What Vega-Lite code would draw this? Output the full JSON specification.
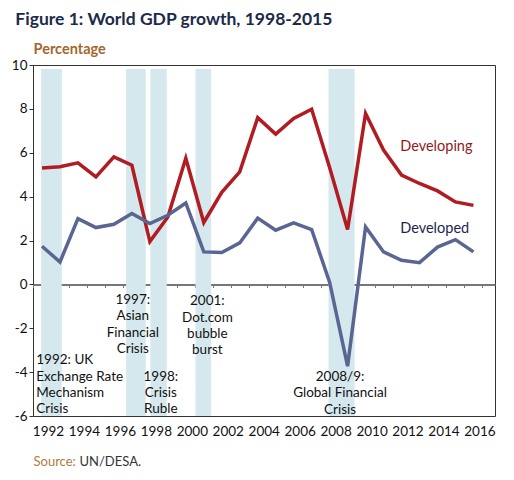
{
  "$schema": "https://vega.github.io/schema/vega-lite/v6.json",
  "width": 462,
  "height": 351,
  "autosize": {"type": "none"},
  "padding": {"left": 33, "top": 65, "right": 19, "bottom": 64},
  "background": "white",
  "config": {"font": "Lato", "view": {"stroke": "#333333", "strokeWidth": 1}},
  "title": {
    "text": "Figure 1: World GDP growth, 1998-2015",
    "anchor": "start",
    "dx": 4,
    "dy": 11,
    "fontSize": 17.5,
    "fontWeight": "bold",
    "color": "#1c2a4a",
    "baseline": "alphabetic",
    "offset": 10
  },
  "datasets": {
    "gdp": [
      {"year": 1992, "series": "Developing", "growth": 5.3},
      {"year": 1993, "series": "Developing", "growth": 5.36},
      {"year": 1994, "series": "Developing", "growth": 5.54},
      {"year": 1995, "series": "Developing", "growth": 4.9},
      {"year": 1996, "series": "Developing", "growth": 5.81},
      {"year": 1997, "series": "Developing", "growth": 5.43},
      {"year": 1998, "series": "Developing", "growth": 1.95},
      {"year": 1999, "series": "Developing", "growth": 3.07},
      {"year": 2000, "series": "Developing", "growth": 5.75},
      {"year": 2001, "series": "Developing", "growth": 2.82},
      {"year": 2002, "series": "Developing", "growth": 4.2},
      {"year": 2003, "series": "Developing", "growth": 5.13},
      {"year": 2004, "series": "Developing", "growth": 7.6},
      {"year": 2005, "series": "Developing", "growth": 6.85},
      {"year": 2006, "series": "Developing", "growth": 7.56},
      {"year": 2007, "series": "Developing", "growth": 7.98},
      {"year": 2008, "series": "Developing", "growth": 5.33},
      {"year": 2009, "series": "Developing", "growth": 2.5},
      {"year": 2010, "series": "Developing", "growth": 7.79},
      {"year": 2011, "series": "Developing", "growth": 6.12},
      {"year": 2012, "series": "Developing", "growth": 4.98},
      {"year": 2013, "series": "Developing", "growth": 4.6},
      {"year": 2014, "series": "Developing", "growth": 4.26},
      {"year": 2015, "series": "Developing", "growth": 3.76},
      {"year": 2016, "series": "Developing", "growth": 3.6},
      {"year": 1992, "series": "Developed", "growth": 1.74},
      {"year": 1993, "series": "Developed", "growth": 1.02},
      {"year": 1994, "series": "Developed", "growth": 3.0},
      {"year": 1995, "series": "Developed", "growth": 2.59},
      {"year": 1996, "series": "Developed", "growth": 2.74},
      {"year": 1997, "series": "Developed", "growth": 3.23},
      {"year": 1998, "series": "Developed", "growth": 2.77},
      {"year": 1999, "series": "Developed", "growth": 3.15},
      {"year": 2000, "series": "Developed", "growth": 3.71},
      {"year": 2001, "series": "Developed", "growth": 1.48},
      {"year": 2002, "series": "Developed", "growth": 1.45},
      {"year": 2003, "series": "Developed", "growth": 1.89},
      {"year": 2004, "series": "Developed", "growth": 3.02},
      {"year": 2005, "series": "Developed", "growth": 2.47},
      {"year": 2006, "series": "Developed", "growth": 2.8},
      {"year": 2007, "series": "Developed", "growth": 2.5},
      {"year": 2008, "series": "Developed", "growth": 0.1},
      {"year": 2009, "series": "Developed", "growth": -3.73},
      {"year": 2010, "series": "Developed", "growth": 2.62},
      {"year": 2011, "series": "Developed", "growth": 1.48},
      {"year": 2012, "series": "Developed", "growth": 1.1},
      {"year": 2013, "series": "Developed", "growth": 0.99},
      {"year": 2014, "series": "Developed", "growth": 1.7},
      {"year": 2015, "series": "Developed", "growth": 2.04},
      {"year": 2016, "series": "Developed", "growth": 1.48}
    ],
    "crises": [
      {"crisis": "1992 ERM", "start": 1991.95, "end": 1993.1},
      {"crisis": "1997 Asian", "start": 1996.68, "end": 1997.77},
      {"crisis": "1998 Ruble", "start": 1998.03, "end": 1998.94},
      {"crisis": "2001 Dot.com", "start": 2000.54, "end": 2001.41},
      {"crisis": "2008/9 GFC", "start": 2007.94, "end": 2009.39}
    ],
    "notes": [
      {"event": "1992", "year": 1991.68, "value": -3.47, "lines": ["1992: UK", "Exchange Rate", "Mechanism", "Crisis"]},
      {"event": "1997", "year": 1997.05, "value": -0.71, "lines": ["1997:", "Asian", "Financial", "Crisis"]},
      {"event": "1998", "year": 1998.61, "value": -4.2, "lines": ["1998:", "Crisis", "Ruble"]},
      {"event": "2001", "year": 2001.2, "value": -0.78, "lines": ["2001:", "Dot.com", "bubble", "burst"]},
      {"event": "2008", "year": 2008.58, "value": -4.23, "lines": ["2008/9:", "Global Financial", "Crisis"]}
    ],
    "labels": [
      {"series": "Developing", "year": 2011.93, "value": 6.26},
      {"series": "Developed", "year": 2011.93, "value": 2.52}
    ]
  },
  "layer": [
    {
      "data": {"name": "crises"},
      "mark": {"type": "rect", "color": "#d5e8ee"},
      "encoding": {
        "x": {
          "field": "start",
          "type": "quantitative",
          "scale": {"domain": [1991.5, 2017.2], "nice": false, "zero": false},
          "axis": {
            "orient": "bottom",
            "offset": -131.5,
            "values": [1991.5, 1992.5, 1993.5, 1994.5, 1995.5, 1996.5, 1997.5, 1998.5, 1999.5, 2000.5, 2001.5, 2002.5, 2003.5, 2004.5, 2005.5, 2006.5, 2007.5, 2008.5, 2009.5, 2010.5, 2011.5, 2012.5, 2013.5, 2014.5, 2015.5, 2016.5],
            "labels": false,
            "grid": false,
            "domainColor": "#777777",
            "domainWidth": 2,
            "tickColor": "#777777",
            "tickSize": 3,
            "tickWidth": 1,
            "title": "UN/DESA.",
            "titleX": 46,
            "titleY": 180.5,
            "titleAlign": "left",
            "titleBaseline": "alphabetic",
            "titleAnchor": "start",
            "titleColor": "#333333",
            "titleFontSize": 13,
            "titleFontWeight": "normal"
          }
        },
        "x2": {"field": "end"},
        "y": {
          "datum": -6,
          "type": "quantitative",
          "title": "Percentage",
          "scale": {"domain": [-6, 10], "nice": false, "zero": false},
          "axis": {
            "values": [-6, -4, -2, 0, 2, 4, 6, 8, 10],
            "labelExpr": "datum.value < 0 ? '-' + abs(datum.value) : '' + datum.value",
            "domain": false,
            "grid": false,
            "tickSize": 4,
            "tickColor": "#333333",
            "labelFontSize": 13.5,
            "labelColor": "#111111",
            "labelPadding": 2,
            "titleAngle": 0,
            "titleX": 0,
            "titleY": -12,
            "titleAlign": "left",
            "titleBaseline": "alphabetic",
            "titleColor": "#a3672c",
            "titleFontSize": 14.5,
            "titleFontWeight": "bold"
          }
        },
        "y2": {"datum": 9.82}
      }
    },
    {
      "data": {"name": "gdp"},
      "mark": {"type": "line", "strokeWidth": 3.5, "strokeJoin": "miter"},
      "encoding": {
        "x": {
          "field": "year",
          "type": "quantitative",
          "axis": {
            "orient": "bottom",
            "values": [1992, 1994, 1996, 1998, 2000, 2002, 2004, 2006, 2008, 2010, 2012, 2014, 2016],
            "format": "d",
            "ticks": false,
            "domain": false,
            "grid": false,
            "labelOffset": 6,
            "labelPadding": 8,
            "labelFontSize": 13.5,
            "labelColor": "#111111",
            "title": "Source:",
            "titleX": 0,
            "titleY": 49,
            "titleAlign": "left",
            "titleBaseline": "alphabetic",
            "titleAnchor": "start",
            "titleColor": "#b07b3c",
            "titleFontSize": 13,
            "titleFontWeight": "normal"
          }
        },
        "y": {"field": "growth", "type": "quantitative", "title": "Percentage"},
        "color": {
          "field": "series",
          "type": "nominal",
          "scale": {"domain": ["Developing", "Developed"], "range": ["#b01c22", "#5b6592"]},
          "legend": null
        }
      }
    },
    {
      "data": {"name": "notes"},
      "transform": [{"filter": "datum.event === '1992'"}],
      "mark": {"type": "text", "align": "left", "baseline": "middle", "fontSize": 13.5, "lineHeight": 16.3, "color": "#111111"},
      "encoding": {
        "x": {"field": "year", "type": "quantitative", "axis": null},
        "y": {"field": "value", "type": "quantitative", "title": "Percentage"},
        "text": {"field": "lines"}
      }
    },
    {
      "data": {"name": "notes"},
      "transform": [{"filter": "datum.event !== '1992'"}],
      "mark": {"type": "text", "align": "center", "baseline": "middle", "fontSize": 13.5, "lineHeight": 16.3, "color": "#111111"},
      "encoding": {
        "x": {"field": "year", "type": "quantitative", "axis": null},
        "y": {"field": "value", "type": "quantitative", "title": "Percentage"},
        "text": {"field": "lines"}
      }
    },
    {
      "data": {"name": "labels"},
      "mark": {"type": "text", "align": "left", "baseline": "middle", "fontSize": 14.5},
      "encoding": {
        "x": {"field": "year", "type": "quantitative", "axis": null},
        "y": {"field": "value", "type": "quantitative", "title": "Percentage"},
        "text": {"field": "series"},
        "color": {"condition": {"test": "datum.series === 'Developing'", "value": "#8e1b20"}, "value": "#1c2552"}
      }
    },
    {
      "mark": {"type": "rule", "color": "#8a6a35", "strokeWidth": 1, "clip": false},
      "encoding": {
        "x": {"datum": 1990.61, "type": "quantitative", "axis": null},
        "x2": {"datum": 2017.2},
        "y": {"datum": 11.49, "type": "quantitative", "title": "Percentage"}
      }
    }
  ],
  "resolve": {"axis": {"x": "independent"}}
}
